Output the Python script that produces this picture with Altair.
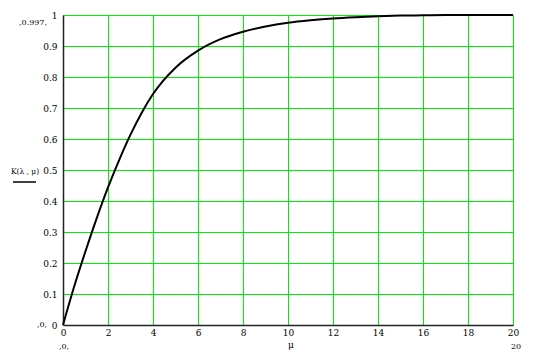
import altair as alt
import pandas as pd

mu = [0, 0.5, 1, 1.5, 2, 2.5, 3, 3.5, 4, 5, 6, 7, 8, 9, 10, 11, 12, 13, 14, 15, 16, 17, 18, 19, 20]
K = [0, 0.125, 0.238, 0.345, 0.444, 0.533, 0.614, 0.685, 0.745, 0.830, 0.885, 0.922, 0.946, 0.963, 0.975,
     0.983, 0.989, 0.993, 0.996, 0.998, 0.999, 1.0, 1.0, 1.0, 1.0]
x_ticks = [0, 2, 4, 6, 8, 10, 12, 14, 16, 18, 20]
y_ticks = [0, 0.1, 0.2, 0.3, 0.4, 0.5, 0.6, 0.7, 0.8, 0.9, 1.0]

df = pd.DataFrame({"mu": mu, "K": K})
FONT = "DejaVu Serif"

line = alt.Chart(df).mark_line(color="black", strokeWidth=2, clip=False, interpolate="monotone").encode(
    x=alt.X("mu:Q", scale=alt.Scale(domain=[0, 20], nice=False, zero=False),
            axis=alt.Axis(values=x_ticks, title=None, format="~g", grid=True,
                          gridColor="#00ee00", gridWidth=1, gridOpacity=1,
                          domainColor="#222222", domainWidth=1.5, ticks=False,
                          labelFont=FONT, labelFontSize=9, labelColor="black",
                          labelPadding=3, labelFlush=False)),
    y=alt.Y("K:Q", scale=alt.Scale(domain=[0, 1], nice=False, zero=False),
            axis=alt.Axis(values=y_ticks, title=None, format="~g", grid=True,
                          gridColor="#00ee00", gridWidth=1, gridOpacity=1,
                          domainColor="#222222", domainWidth=1.5, ticks=False,
                          labelFont=FONT, labelFontSize=9, labelColor="black",
                          labelPadding=6, labelFlush=False)),
)

def txt(s, x, y, size=9, align="center"):
    return alt.Chart(pd.DataFrame({"t": [s]})).mark_text(
        font=FONT, fontSize=size, color="black", align=align, baseline="middle"
    ).encode(text="t:N", x=alt.value(x), y=alt.value(y))

annots = [
    txt(",0.997,", -30, 8, 8),
    txt(",0,", -21, 310, 8),
    txt(",0,", 1, 332, 8),
    txt("μ", 228, 330, 9),
    txt("20", 453, 332, 8),
    txt("K(λ , μ)", -38, 157, 7.5),
]
underline = alt.Chart(pd.DataFrame({"a": [0]})).mark_rule(color="black", strokeWidth=1.5).encode(
    x=alt.value(-50), x2=alt.value(-27), y=alt.value(167)
)

chart = alt.layer(line, *annots, underline).properties(
    width=450, height=310,
    autosize=alt.AutoSizeParams(type="none"),
    padding={"left": 63, "top": 15, "right": 23, "bottom": 28},
).configure_view(stroke="#555555", strokeWidth=1.5).configure(background="white")

chart.save("out.html", embed_options={"renderer": "svg", "actions": False})
